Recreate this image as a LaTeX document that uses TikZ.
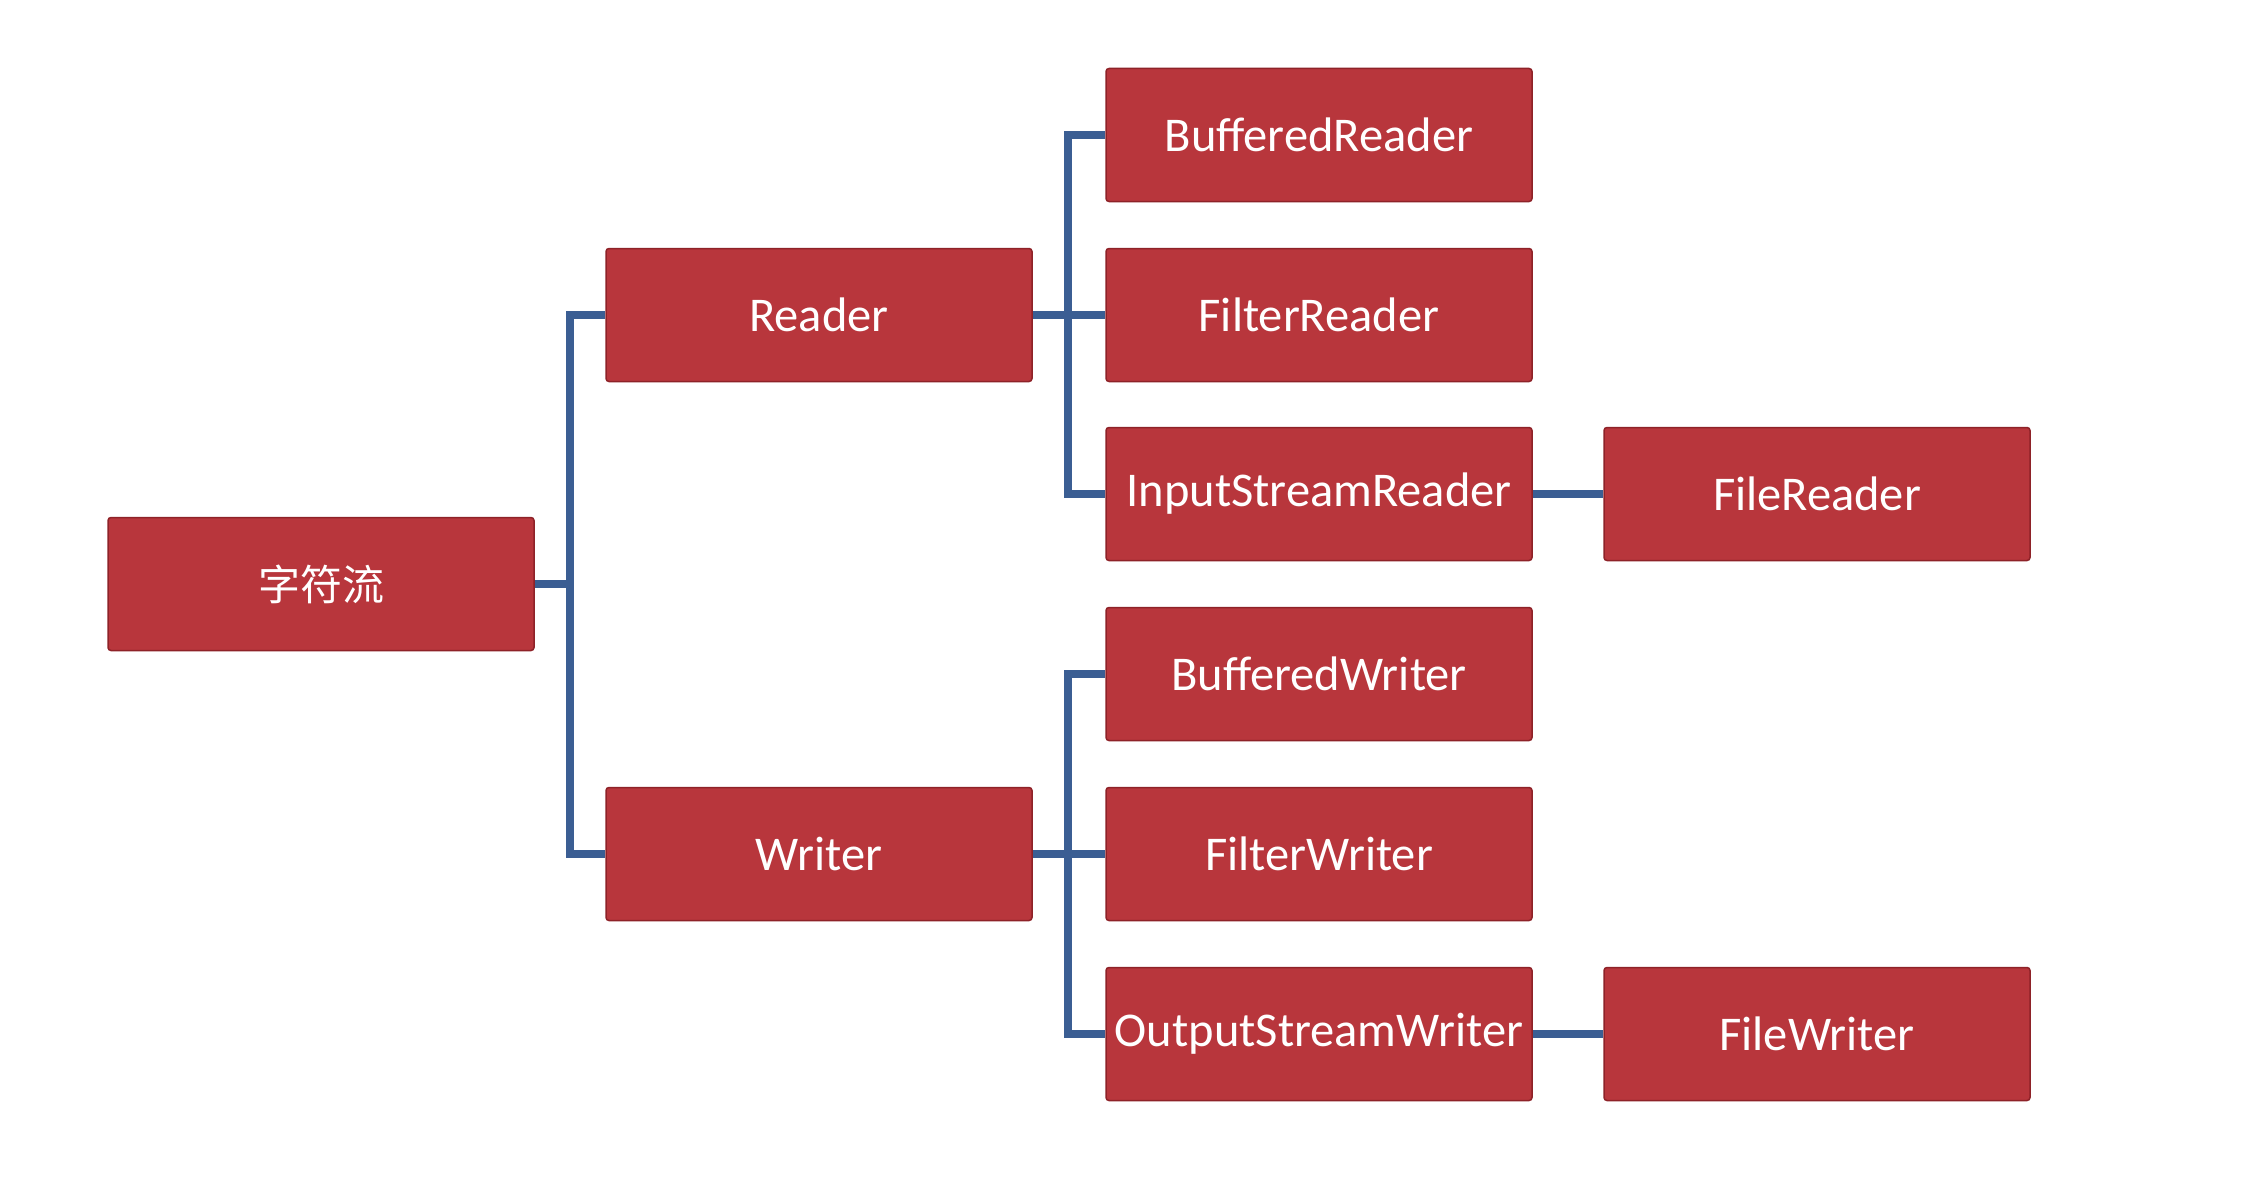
\documentclass[tikz,border=0pt]{standalone}
\usepackage{fontspec}
\setmainfont{Carlito}
\newfontfamily\cjk{Noto Sans CJK SC}
\definecolor{boxred}{HTML}{B8363C}
\definecolor{boxedge}{HTML}{8E2228}
\definecolor{linkblue}{HTML}{3B5E93}
\begin{document}
\begin{tikzpicture}[x=1pt,y=-1pt,
  cbox/.style={draw=boxedge,line width=1.5pt,fill=boxred,rounded corners=3pt,
    minimum width=426pt,minimum height=133pt,inner sep=0pt,
    text=white,font=\fontsize{48.5}{56}\selectfont},
  link/.style={draw=linkblue,line width=8pt,line join=miter}]
\useasboundingbox[fill=white] (0,0) rectangle (2264,1188);
\draw[link] (570,584) -- (534,584);
\node[cbox] (root) at (321,584) {\cjk\fontsize{42}{50}\selectfont 字符流};
\node[cbox] (reader) at (819,315) {Reader};
\node[cbox] (writer) at (819,854) {Writer};
\node[cbox] (br) at (1319,135) {BufferedReader};
\node[cbox] (fr) at (1319,315) {FilterReader};
\node[cbox] (isr) at (1319,494) {InputStreamReader};
\node[cbox] (filer) at (1817,494) {FileReader};
\node[cbox] (bw) at (1319,674) {BufferedWriter};
\node[cbox] (fw) at (1319,854) {FilterWriter};
\node[cbox] (osw) at (1319,1034) {OutputStreamWriter};
\node[cbox] (filew) at (1817,1034) {FileWriter};
\coordinate (b1) at (570,584);
\coordinate (b2) at (1068,315);
\coordinate (b3) at (1068,854);
\draw[link] (root.east) -- (b1);
\draw[link] (reader.west) -| (b1) |- (writer.west);
\draw[link] (reader.east) -- (b2);
\draw[link] (br.west) -| (b2) |- (isr.west);
\draw[link] (b2) -- (fr.west);
\draw[link] (writer.east) -- (b3);
\draw[link] (bw.west) -| (b3) |- (osw.west);
\draw[link] (b3) -- (fw.west);
\draw[link] (isr.east) -- (filer.west);
\draw[link] (osw.east) -- (filew.west);
\end{tikzpicture}
\end{document}
